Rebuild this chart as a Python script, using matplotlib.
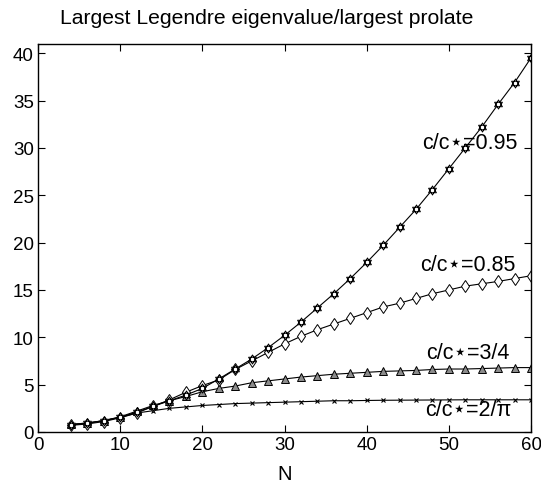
import matplotlib
matplotlib.use("Agg")
import matplotlib.pyplot as plt
from matplotlib.path import Path
import numpy as np

plt.rcParams['font.family'] = ['Liberation Sans', 'DejaVu Sans']

N = list(range(4, 61, 2))

r095 = [0.75, 0.9, 1.2, 1.55, 2.1, 2.7, 3.3, 3.9, 4.6, 5.6, 6.65, 7.7, 8.9,
        10.2, 11.6, 13.1, 14.6, 16.2, 17.9, 19.7, 21.6, 23.5, 25.6, 27.8,
        30.0, 32.2, 34.6, 36.9, 39.5]
r085 = [0.7, 0.85, 1.1, 1.5, 2.0, 2.7, 3.4, 4.2, 4.9, 5.5, 6.6, 7.5, 8.4,
        9.3, 10.1, 10.8, 11.4, 12.0, 12.6, 13.2, 13.6, 14.1, 14.6, 15.0,
        15.4, 15.65, 15.9, 16.2, 16.5]
r075 = [0.8, 0.95, 1.2, 1.6, 2.2, 2.8, 3.3, 3.75, 4.25, 4.6, 4.85, 5.2, 5.4,
        5.6, 5.8, 5.95, 6.1, 6.2, 6.3, 6.4, 6.45, 6.5, 6.6, 6.65, 6.65,
        6.7, 6.75, 6.8, 6.8]
r2pi = [0.8, 0.95, 1.2, 1.55, 2.0, 2.25, 2.5, 2.65, 2.8, 2.9, 3.0, 3.05, 3.1,
        3.15, 3.2, 3.25, 3.3, 3.3, 3.33, 3.35, 3.36, 3.37, 3.38, 3.39, 3.4,
        3.4, 3.4, 3.4, 3.4]

labels = ["c/c\u22c6=0.95", "c/c\u22c6=0.85", "c/c\u22c6=3/4", "c/c\u22c6=2/\u03c0"]
label_pos = [(52.6, 30.6), (52.3, 17.7), (52.3, 8.4), (52.4, 2.4)]

# hexagram (star of David) marker: two overlapping triangles
s3 = np.sqrt(3) / 2
hex_verts = [(0, 1), (-s3, -0.5), (s3, -0.5), (0, 1),
             (0, -1), (s3, 0.5), (-s3, 0.5), (0, -1)]
hex_codes = [Path.MOVETO, Path.LINETO, Path.LINETO, Path.CLOSEPOLY,
             Path.MOVETO, Path.LINETO, Path.LINETO, Path.CLOSEPOLY]
hexagram = Path(hex_verts, hex_codes)

fig = plt.figure(figsize=(5.41, 4.89), dpi=100)
ax = fig.add_axes([38/541, 1-433/489, 493/541, (433-44.7)/489])

ax.plot(N, r2pi, color='black', lw=0.8, marker='x', ms=3.5, mew=0.8)
ax.plot(N, r075, color='black', lw=0.8, marker='^', ms=6, mfc='0.55', mec='black', mew=0.7)
ax.plot(N, r085, color='black', lw=0.8, marker='d', ms=6, mfc='white', mec='black', mew=0.7)
ax.plot(N, r095, color='black', lw=0.8, marker=hexagram, ms=6.5, mfc='white', mec='black', mew=0.7)

for t, (x, y) in zip(labels, label_pos):
    ax.text(x, y, t, fontsize=15.5, ha='center', va='center')

ax.set_xlim(0, 60)
ax.set_ylim(0, 41)
ax.set_xticks(range(0, 61, 10))
ax.set_yticks(range(0, 41, 5))
ax.tick_params(direction='in', top=True, right=True, labelsize=13.5, length=5, width=0.8, pad=3)
for s in ax.spines.values():
    s.set_linewidth(1.0)
ax.set_xlabel('N', fontsize=14.5, labelpad=8)
fig.text(267/541, 1-18/489, 'Largest Legendre eigenvalue/largest prolate',
         fontsize=15.2, ha='center', va='center')

fig.savefig('out.png', dpi=100)
